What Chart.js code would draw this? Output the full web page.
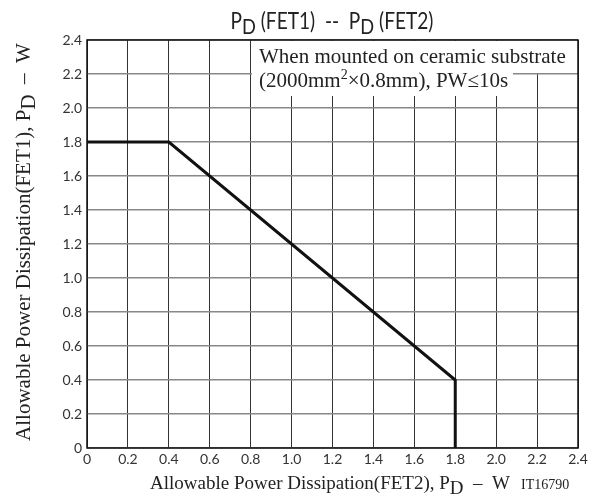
<!DOCTYPE html>
<html>
<head>
<meta charset="utf-8">
<script src="https://cdn.jsdelivr.net/npm/chart.js@4.4.1/dist/chart.umd.min.js"></script>
<style>
  html, body { margin: 0; padding: 0; background: #fff; }
  #wrap { width: 604px; height: 497px; }
</style>
</head>
<body>
<div id="wrap"><canvas id="myChart"></canvas></div>
<script>
// data
const fet2 = [0, 0.4, 1.8, 1.8];   // x, PD(FET2) W
const fet1 = [1.8, 1.8, 0.4, 0];   // y, PD(FET1) W
const xTicks = [0, 0.2, 0.4, 0.6, 0.8, 1.0, 1.2, 1.4, 1.6, 1.8, 2.0, 2.2, 2.4];
const yTicks = [0, 0.2, 0.4, 0.6, 0.8, 1.0, 1.2, 1.4, 1.6, 1.8, 2.0, 2.2, 2.4];

const SERIF = '"Liberation Serif", "DejaVu Serif", serif';
const SANS = 'Lato, "Open Sans", sans-serif';

// draws pieces of text one after the other (for subscripts / superscripts)
function richText(ctx, parts, x, y, align){
  let w = 0;
  parts.forEach(p => { ctx.font = p.font; w += ctx.measureText(p.t).width; });
  let cx = align === 'center' ? x - w/2 : (align === 'right' ? x - w : x);
  ctx.textAlign = 'left';
  ctx.textBaseline = 'alphabetic';
  parts.forEach(p => {
    ctx.font = p.font;
    ctx.fillText(p.t, cx, y + (p.dy || 0));
    cx += ctx.measureText(p.t).width;
  });
}

const textPlugin = {
  id: 'texts',
  beforeDatasetsDraw(chart){
    const ctx = chart.ctx;
    const a = chart.chartArea;
    ctx.save();
    // white boxes behind the note
    ctx.fillStyle = '#fff';
    ctx.fillRect(252, a.top + 1, a.right - 253, 32);
    ctx.fillRect(252, a.top + 33, 261, 23);
    ctx.fillStyle = '#222';
    richText(ctx, [{t:'When mounted on ceramic substrate', font:'21px ' + SERIF}], 259, 63, 'left');
    richText(ctx, [
      {t:'(2000mm', font:'21px ' + SERIF},
      {t:'2', font:'14px ' + SERIF, dy:-8},
      {t:'\u00d70.8mm), PW\u226410s', font:'21px ' + SERIF}
    ], 259, 87, 'left');
    ctx.restore();
  },
  afterDraw(chart){
    const ctx = chart.ctx;
    const a = chart.chartArea;
    ctx.save();
    // plot frame
    ctx.strokeStyle = '#111';
    ctx.lineWidth = 1.5;
    ctx.strokeRect(a.left, a.top, a.right - a.left, a.bottom - a.top);
    ctx.fillStyle = '#222';
    // title (narrow face in the original, so squeeze it a bit)
    ctx.save();
    ctx.translate(332, 29);
    ctx.scale(0.83, 1);
    richText(ctx, [
      {t:'P', font:'23px ' + SANS},
      {t:'D', font:'22px ' + SANS, dy:5},
      {t:' (FET1)  --  P', font:'23px ' + SANS},
      {t:'D', font:'22px ' + SANS, dy:5},
      {t:' (FET2)', font:'23px ' + SANS}
    ], 0, 0, 'center');
    ctx.restore();
    // x title
    richText(ctx, [
      {t:'Allowable Power Dissipation(FET2), P', font:'19px ' + SERIF},
      {t:'D', font:'19px ' + SERIF, dy:5},
      {t:'  \u2013  W', font:'19px ' + SERIF}
    ], 330, 489, 'center');
    richText(ctx, [{t:'IT16790', font:'14px ' + SERIF}], 521, 489, 'left');
    // y title
    ctx.translate(30, 242);
    ctx.rotate(-Math.PI/2);
    richText(ctx, [
      {t:'Allowable Power Dissipation(FET1), P', font:'21px ' + SERIF},
      {t:'D', font:'21px ' + SERIF, dy:5},
      {t:'  \u2013  W', font:'21px ' + SERIF}
    ], 0, 0, 'center');
    ctx.restore();
  }
};

const ctx = document.getElementById('myChart').getContext('2d');
var myChart = new Chart(ctx, {
    type: 'line',
    data: {
        datasets: [{
            data: fet2.map((v, i) => ({x: v, y: fet1[i]})),
            borderColor: '#111',
            borderWidth: 3,
            pointRadius: 0,
            tension: 0,
            fill: false
        }]
    },
    options: {
        responsive: true,
        maintainAspectRatio: false,
        animation: false,
        layout: {padding: {left: 0, top: 40, right: 26, bottom: 0}},
        scales: {
            x: {
                type: 'linear', min: 0, max: 2.4,
                afterBuildTicks: s => { s.ticks = xTicks.map(v => ({value: v})); },
                afterFit: s => { s.height = 49; },
                grid: {color: '#333', lineWidth: 1, drawTicks: false},
                border: {display: false},
                ticks: {color: '#333', font: {family: SANS, size: 14}, padding: 3,
                        maxRotation: 0, autoSkip: false,
                        callback: v => v === 0 ? '0' : v.toFixed(1)}
            },
            y: {
                type: 'linear', min: 0, max: 2.4,
                afterBuildTicks: s => { s.ticks = yTicks.map(v => ({value: v})); },
                afterFit: s => { s.width = 87; },
                grid: {color: '#888', lineWidth: 1.5, drawTicks: false},
                border: {display: false},
                ticks: {color: '#333', font: {family: SANS, size: 14}, padding: 5,
                        autoSkip: false,
                        callback: v => v === 0 ? '0' : v.toFixed(1)}
            }
        },
        plugins: {
            legend: {display: false},
            tooltip: {enabled: false},
            title: {display: false}
        }
    },
    plugins: [textPlugin]
});
</script>
</body>
</html>
